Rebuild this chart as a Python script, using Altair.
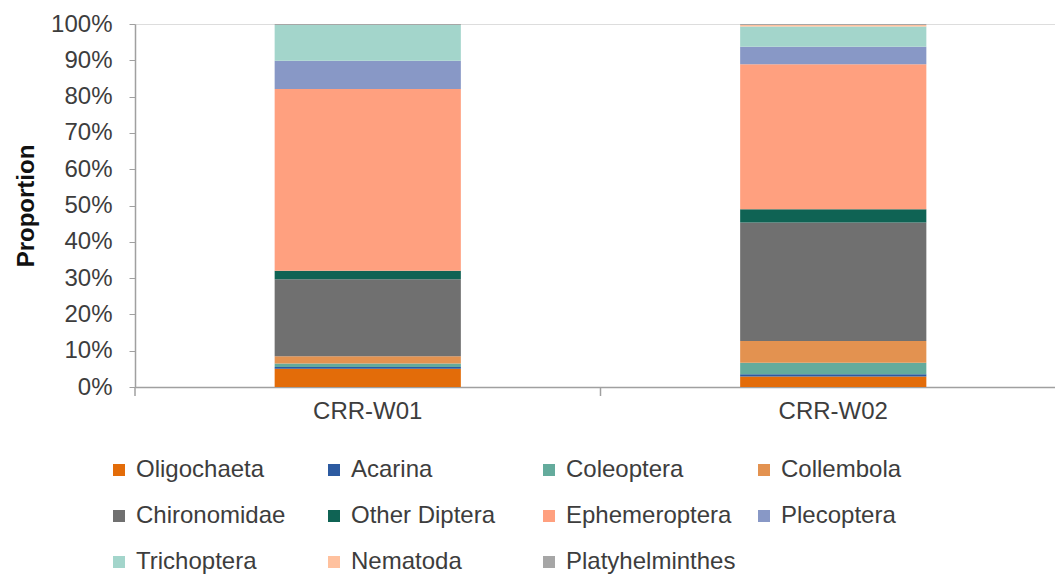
import altair as alt
import pandas as pd

# Sampling sites
sites = ["CRR-W01", "CRR-W02"]

# Taxa, bottom of the stack first
taxa = [
    "Oligochaeta", "Acarina", "Coleoptera", "Collembola",
    "Chironomidae", "Other Diptera", "Ephemeroptera", "Plecoptera",
    "Trichoptera", "Nematoda", "Platyhelminthes",
]

# Relative abundance (%) of each taxon at each site
w01 = [5.0, 0.5, 1.0, 2.0, 21.2, 2.3, 50.1, 7.8, 9.8, 0.0, 0.3]
w02 = [2.9, 0.6, 3.2, 6.0, 32.6, 3.7, 39.9, 4.8, 5.6, 0.4, 0.3]

colors = [
    "#E36C09", "#2C5AA0", "#64AB9C", "#E39250",
    "#707070", "#0F6354", "#FFA07F", "#8898C6",
    "#A3D5CB", "#FFC19E", "#A6A6A6",
]

rows = []
for site, vals in zip(sites, [w01, w02]):
    for i, (t, v) in enumerate(zip(taxa, vals)):
        rows.append({"site": site, "taxon": t, "order": i, "value": v})
df = pd.DataFrame(rows)
ticks_df = pd.DataFrame({"site": sites})

FONT = "Liberation Sans"
TEXT = "#3d3d3d"
AXIS = "#a0a0a0"
W, H = 920, 363

x_scale = alt.Scale(domain=sites, range=[0, 931], paddingInner=0, paddingOuter=0)

bars = alt.Chart(df).mark_bar(width=alt.RelativeBandSize(0.4)).encode(
    x=alt.X("site:N", scale=x_scale, sort=sites,
            axis=alt.Axis(title=None, labelAngle=0, ticks=False,
                          labelFontSize=24, labelFont=FONT, labelColor=TEXT,
                          labelPadding=12, domainColor=AXIS, domainWidth=1.5)),
    y=alt.Y("value:Q", stack="normalize",
            scale=alt.Scale(domain=[0, 1], nice=False),
            axis=alt.Axis(title="Proportion", format=".0%", values=[i / 10 for i in range(11)],
                          grid=False, tickSize=6, tickColor=AXIS, domainColor=AXIS,
                          domainWidth=1.5, labelFontSize=24, labelFont=FONT,
                          labelColor=TEXT, labelPadding=17, titleFontSize=24,
                          titleFont=FONT, titleFontWeight="bold", titleColor="#111111",
                          titlePadding=12)),
    color=alt.Color("taxon:N", sort=taxa,
                    scale=alt.Scale(domain=taxa, range=colors),
                    legend=alt.Legend(title=None, orient="none", legendX=-28, legendY=434,
                                      direction="horizontal", columns=4, gridAlign="all",
                                      columnPadding=16, rowPadding=22,
                                      symbolType="square", symbolSize=144,
                                      symbolStrokeWidth=0, labelOffset=5,
                                      labelFontSize=24, labelFont=FONT, labelColor=TEXT,
                                      labelLimit=300, padding=0)),
    order=alt.Order("order:Q", sort="ascending"),
)

# Category-boundary ticks under the x axis
xticks = alt.Chart(ticks_df).mark_rule(color=AXIS, strokeWidth=1.5).encode(
    x=alt.X("site:N", scale=x_scale, sort=sites, bandPosition=0),
    y=alt.value(H),
    y2=alt.value(H + 9),
)

chart = alt.layer(bars, xticks).properties(
    width=W, height=H,
    autosize=alt.AutoSizeParams(type="none"),
    padding={"left": 135, "top": 24, "right": 0, "bottom": 191},
).configure_view(stroke=None).configure(background="white")

chart.save("out.html", embed_options={"renderer": "svg", "actions": False})
